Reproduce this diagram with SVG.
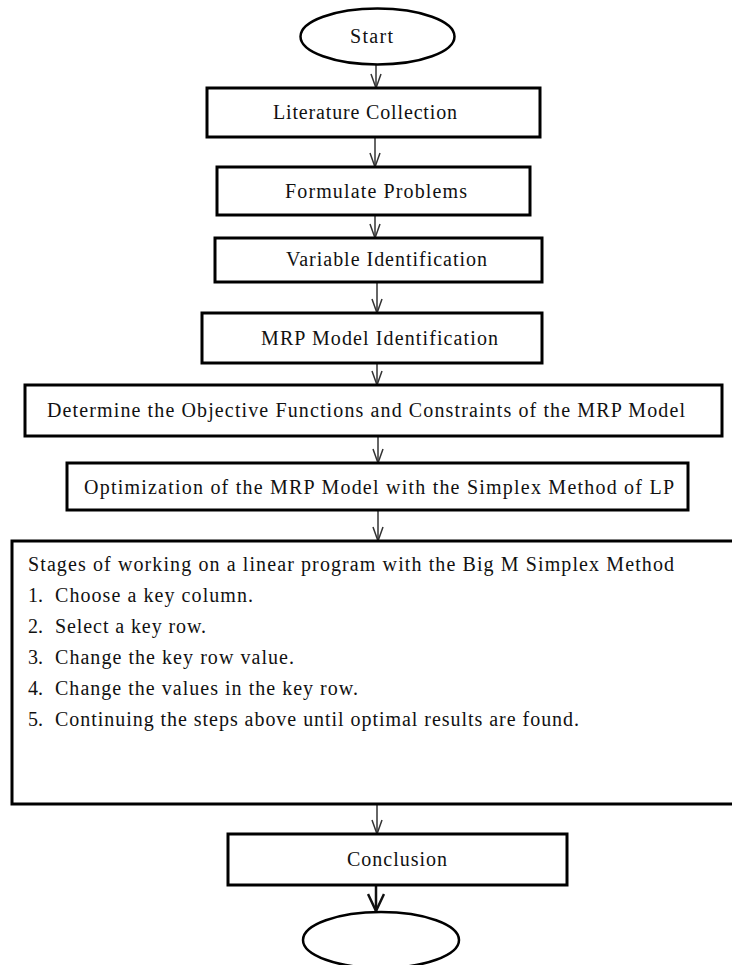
<svg xmlns="http://www.w3.org/2000/svg" width="732" height="965" viewBox="0 0 732 965">
<defs>
<style>
.box{fill:#fff;stroke:#000;stroke-width:3}
.ell{fill:#fff;stroke:#000;stroke-width:2.5}
.t{font-family:"Liberation Serif","Times New Roman",serif;font-size:20px;fill:#111}
.ln{stroke:#333;stroke-width:1.5;fill:none}
.ln2{stroke:#111;stroke-width:2.5;fill:none}
</style>
<marker id="arr" markerUnits="userSpaceOnUse" viewBox="0 0 16 12" markerWidth="16" markerHeight="12" refX="15" refY="6" orient="auto">
<path d="M1,1 L15,6 L1,11" fill="none" stroke="#333" stroke-width="1.5"/>
</marker>
<marker id="arr2" markerUnits="userSpaceOnUse" viewBox="0 0 20 18" markerWidth="20" markerHeight="18" refX="18" refY="9" orient="auto">
<path d="M1,1 L18,9 L1,17" fill="none" stroke="#111" stroke-width="2.5"/>
</marker>
</defs>
<rect width="732" height="965" fill="#fff"/>
<g id="connectors">
<line class="ln" x1="376" y1="65" x2="376" y2="88" marker-end="url(#arr)"/>
<line class="ln" x1="375" y1="137" x2="375" y2="167" marker-end="url(#arr)"/>
<line class="ln" x1="375" y1="215" x2="375" y2="238" marker-end="url(#arr)"/>
<line class="ln" x1="377" y1="282" x2="377" y2="313" marker-end="url(#arr)"/>
<line class="ln" x1="377" y1="363" x2="377" y2="385" marker-end="url(#arr)"/>
<line class="ln" x1="378" y1="436" x2="378" y2="463" marker-end="url(#arr)"/>
<line class="ln" x1="378" y1="510" x2="378" y2="541" marker-end="url(#arr)"/>
<line class="ln" x1="377" y1="804" x2="377" y2="834" marker-end="url(#arr)"/>
<line class="ln2" x1="376" y1="885" x2="376" y2="911" marker-end="url(#arr2)"/>
</g>
<g id="start">
<ellipse class="ell" cx="377.5" cy="36.5" rx="77" ry="28"/>
<text class="t" x="350" y="43" textLength="43" lengthAdjust="spacing">Start</text>
</g>
<g id="literature">
<rect class="box" x="207" y="88" width="333" height="49"/>
<text class="t" x="273" y="119" textLength="184" lengthAdjust="spacing">Literature Collection</text>
</g>
<g id="formulate">
<rect class="box" x="217" y="167" width="313" height="48"/>
<text class="t" x="285" y="198" textLength="182" lengthAdjust="spacing">Formulate Problems</text>
</g>
<g id="variable">
<rect class="box" x="215" y="238" width="327" height="44"/>
<text class="t" x="286" y="266" textLength="201" lengthAdjust="spacing">Variable Identification</text>
</g>
<g id="mrp">
<rect class="box" x="202" y="313" width="340" height="50"/>
<text class="t" x="261" y="345" textLength="237" lengthAdjust="spacing">MRP Model Identification</text>
</g>
<g id="determine">
<rect class="box" x="25" y="385" width="697" height="51"/>
<text class="t" x="47" y="417" textLength="638" lengthAdjust="spacing">Determine the Objective Functions and Constraints of the MRP Model</text>
</g>
<g id="optimization">
<rect class="box" x="67" y="463" width="621" height="47"/>
<text class="t" x="84" y="494" textLength="590" lengthAdjust="spacing">Optimization of the MRP Model with the Simplex Method of LP</text>
</g>
<g id="stages">
<rect class="box" x="12" y="541" width="740" height="263"/>
<text class="t" x="28" y="571" textLength="646" lengthAdjust="spacing">Stages of working on a linear program with the Big M Simplex Method</text>
<text class="t" x="28" y="602">1.</text><text class="t" x="55" y="602" textLength="198" lengthAdjust="spacing">Choose a key column.</text>
<text class="t" x="28" y="633">2.</text><text class="t" x="55" y="633" textLength="151" lengthAdjust="spacing">Select a key row.</text>
<text class="t" x="28" y="664">3.</text><text class="t" x="55" y="664" textLength="239" lengthAdjust="spacing">Change the key row value.</text>
<text class="t" x="28" y="695">4.</text><text class="t" x="55" y="695" textLength="303" lengthAdjust="spacing">Change the values in the key row.</text>
<text class="t" x="28" y="726">5.</text><text class="t" x="55" y="726" textLength="524" lengthAdjust="spacing">Continuing the steps above until optimal results are found.</text>
</g>
<g id="conclusion">
<rect class="box" x="228" y="834" width="339" height="51"/>
<text class="t" x="347" y="866" textLength="100" lengthAdjust="spacing">Conclusion</text>
</g>
<g id="end">
<ellipse class="ell" cx="381" cy="940" rx="78" ry="28"/>
</g>
</svg>
